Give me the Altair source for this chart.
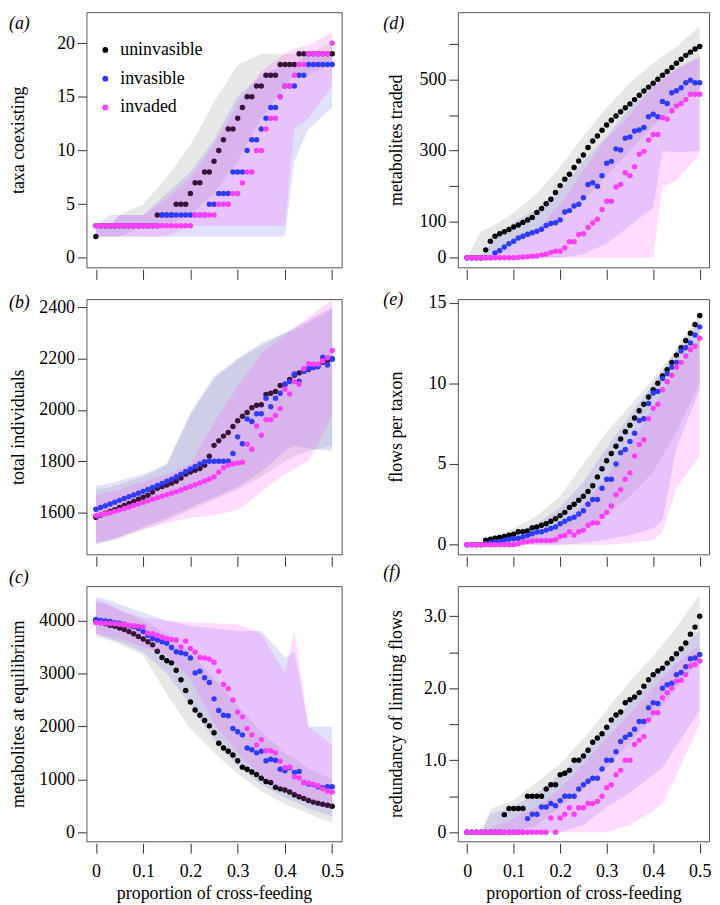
import altair as alt
import pandas as pd

# ---------------- data ----------------
X = [0.0, 0.01, 0.02, 0.03, 0.04, 0.05, 0.06, 0.07, 0.08, 0.09,
     0.1, 0.11, 0.12, 0.13, 0.14, 0.15, 0.16, 0.17, 0.18, 0.19,
     0.2, 0.21, 0.22, 0.23, 0.24, 0.25, 0.26, 0.27, 0.28, 0.29,
     0.3, 0.31, 0.32, 0.33, 0.34, 0.35, 0.36, 0.37, 0.38, 0.39,
     0.4, 0.41, 0.42, 0.43, 0.44, 0.45, 0.46, 0.47, 0.48, 0.49, 0.5]
XB = [0.0, 0.03, 0.05, 0.1, 0.15, 0.2, 0.25, 0.3, 0.35, 0.4, 0.42, 0.45, 0.5]
SERIES = ["uninvasible", "invasible", "invaded"]
X_TICKS = [0, 0.1, 0.2, 0.3, 0.4, 0.5]

# (a) taxa coexisting
A_UNINV = [2, 3, 3, 3, 3, 3, 3, 3, 3, 3, 3, 3, 3, 4, 4, 4, 4, 5, 5, 5,
           6, 7, 7, 8, 8, 9, 10, 11, 12, 12, 13, 14, 15, 15, 16, 16, 17, 17, 17, 18,
           18, 18, 18, 19, 19, 19, 19, 19, 19, 19, 19]
A_INV = [3, 3, 3, 3, 3, 3, 3, 3, 3, 3, 3, 3, 3, 3, 4, 4, 4, 4, 4, 4,
         4, 4, 4, 4, 5, 5, 6, 6, 6, 8, 8, 8, 10, 11, 11, 12, 13, 14, 14, 15,
         16, 16, 16, 17, 17, 18, 18, 18, 18, 18, 18]
A_INVADED = [3, 3, 3, 3, 3, 3, 3, 3, 3, 3, 3, 3, 3, 3, 3, 3, 3, 3, 3, 3,
             3, 4, 4, 4, 4, 4, 5, 5, 5, 6, 6, 7, 8, 8, 10, 10, 12, 13, 13, 15,
             16, 16, 17, 18, 18, 19, 19, 19, 19, 19, 20]
A_GRAY_LO = [2, 2, 2, 3, 3, 4, 6, 9, 13, 16, 17, 17, 18]
A_GRAY_HI = [3, 3, 4, 5, 7.5, 10.5, 14.5, 18, 19, 19, 19, 19, 20]
A_BLUE_LO = [2, 2, 2, 2, 2, 2, 2, 2, 2, 2, 9, 12, 14]
A_BLUE_HI = [3, 4, 4, 4, 6, 8, 11, 15, 17, 18, 18, 19, 19]
A_PINK_LO = [2, 2, 2, 2, 2, 3, 3, 3, 3, 3, 12, 13, 16]
A_PINK_HI = [3, 3, 4, 4, 5.5, 7.5, 10.5, 14.3, 17.4, 19, 19.5, 19.8, 21]

# (b) total individuals
B_UNINV = [1582, 1590, 1598, 1605, 1612, 1620, 1628, 1636, 1644, 1652,
           1660, 1668, 1680, 1695, 1702, 1708, 1715, 1722, 1735, 1750,
           1758, 1765, 1772, 1785, 1820, 1862, 1880, 1898, 1912, 1935,
           1958, 1975, 1990, 2008, 2018, 2020, 2060, 2065, 2072, 2095,
           2100, 2118, 2135, 2144, 2150, 2157, 2165, 2173, 2185, 2192, 2199]
B_INV = [1613, 1620, 1627, 1634, 1641, 1648, 1655, 1662, 1669, 1676,
         1683, 1690, 1698, 1706, 1714, 1722, 1730, 1740, 1750, 1760,
         1770, 1780, 1790, 1798, 1800, 1800, 1800, 1800, 1800, 1830,
         1895, 1868, 1965, 1955, 1985, 1985, 2045, 2012, 2045, 2065,
         2100, 2110, 2140, 2112, 2150, 2160, 2165, 2168, 2205, 2175, 2197]
B_INVADED = [1588, 1592, 1596, 1600, 1605, 1610, 1616, 1622, 1628, 1634,
             1640, 1646, 1652, 1658, 1664, 1670, 1676, 1682, 1688, 1695,
             1702, 1709, 1716, 1723, 1730, 1740, 1757, 1775, 1785, 1790,
             1793, 1796, 1866, 1847, 1937, 1901, 1962, 1962, 1978, 2005,
             2080, 2062, 2110, 2100, 2160, 2180, 2178, 2178, 2190, 2203, 2231]
B_GRAY_LO = [1475, 1490, 1500, 1535, 1570, 1610, 1650, 1690, 1740, 1800, 1820, 1840, 1860]
B_GRAY_HI = [1690, 1700, 1710, 1740, 1785, 1980, 2120, 2195, 2250, 2300, 2310, 2340, 2390]
B_BLUE_LO = [1480, 1495, 1505, 1545, 1580, 1620, 1660, 1700, 1760, 1840, 1860, 1850, 1840]
B_BLUE_HI = [1705, 1715, 1725, 1750, 1790, 1990, 2130, 2200, 2260, 2300, 2320, 2350, 2400]
B_PINK_LO = [1485, 1495, 1505, 1535, 1560, 1580, 1590, 1610, 1680, 1750, 1770, 1800, 1980]
B_PINK_HI = [1670, 1680, 1690, 1720, 1750, 1790, 1950, 2090, 2220, 2290, 2320, 2360, 2430]

# (c) metabolites at equilibrium
C_UNINV = [4000, 3960, 3940, 3910, 3890, 3860, 3830, 3790, 3750, 3700,
           3650, 3600, 3540, 3420, 3300, 3240, 3200, 3060, 2880, 2680,
           2460, 2310, 2210, 2110, 2010, 1880, 1680, 1590, 1530, 1460,
           1350, 1230, 1190, 1140, 1090, 1020, 960, 940, 850, 820,
           800, 760, 710, 670, 640, 600, 570, 550, 530, 510, 490]
C_INV = [4020, 4000, 3990, 3980, 3960, 3950, 3930, 3900, 3880, 3850,
         3790, 3720, 3660, 3630, 3600, 3570, 3490, 3410, 3390, 3370,
         3290, 3010, 3040, 2920, 2830, 2520, 2300, 2210, 2200, 1960,
         1900, 1840, 1590, 1560, 1500, 1530, 1350, 1380, 1360, 1190,
         1160, 1220, 1130, 1150, 940, 910, 900, 860, 840, 860, 860]
C_INVADED = [3960, 3955, 3950, 3945, 3940, 3930, 3920, 3910, 3900, 3890,
             3880, 3760, 3750, 3720, 3690, 3660, 3640, 3630, 3500, 3610,
             3470, 3400, 3300, 3290, 3270, 3210, 3040, 2790, 2710, 2500,
             2270, 2180, 1960, 1840, 1650, 1750, 1540, 1540, 1500, 1340,
             1220, 1235, 1050, 1025, 940, 930, 910, 880, 820, 780, 760]
C_GRAY_LO = [3700, 3620, 3550, 3350, 2600, 1950, 1500, 1100, 780, 530, 460, 350, 180]
C_GRAY_HI = [4350, 4280, 4200, 4000, 3750, 3400, 2900, 2400, 1900, 1500, 1400, 1200, 1000]
C_BLUE_LO = [3750, 3650, 3600, 3400, 3000, 2400, 1750, 1250, 900, 650, 580, 450, 300]
C_BLUE_HI = [4450, 4380, 4300, 4150, 4000, 3900, 3850, 3800, 3800, 3300, 3400, 2000, 2000]
C_PINK_LO = [3750, 3700, 3650, 3500, 3350, 2900, 2050, 1500, 1050, 750, 680, 560, 420]
C_PINK_HI = [4400, 4300, 4200, 4050, 4000, 3960, 3950, 3930, 3750, 3000, 3800, 2000, 1650]

# (d) metabolites traded
D_UNINV = [0, 0, 0, 0, 22, 46, 60, 67, 73, 79, 86, 92, 99, 106,
           113, 127, 138, 151, 164, 183, 202, 220, 234, 253,
           271, 288, 309, 327, 341, 357, 372, 385, 397, 409,
           420, 431, 443, 455, 467, 478, 489, 500, 511, 522,
           533, 545, 556, 567, 576, 585, 592]
D_INV = [0, 0, 0, 0, 0, 0, 13, 20, 30, 39, 46, 55, 60, 66, 70, 74,
         80, 90, 96, 98, 106, 128, 132, 145, 150, 168,
         205, 210, 200, 230, 265, 270, 305, 302, 335, 338,
         355, 358, 365, 395, 402, 395, 438, 432, 462, 468,
         476, 490, 497, 490, 490]
D_INVADED = [0, 0, 0, 0, 0, 0, 0, 0, 0, 0, 0, 1, 2, 3, 4, 5, 8, 10, 15, 18,
             18, 28, 45, 45, 65, 67, 85, 97, 108, 135,
             158, 158, 198, 205, 238, 230, 255, 290, 298, 330,
             345, 345, 392, 388, 412, 425, 432, 443, 458, 458, 458]
D_GRAY_LO = [0, 0, 0, 30, 70, 110, 160, 230, 300, 370, 390, 420, 470]
D_GRAY_HI = [0, 75, 85, 125, 180, 255, 340, 420, 490, 545, 565, 590, 650]
D_BLUE_LO = [0, 0, 0, 0, 0, 0, 10, 40, 90, 140, 300, 295, 300]
D_BLUE_HI = [0, 0, 40, 100, 135, 190, 270, 340, 420, 480, 500, 530, 560]
D_PINK_LO = [0, 0, 0, 0, 0, 0, 0, 0, 0, 0, 200, 215, 290]
D_PINK_HI = [0, 0, 5, 30, 75, 150, 245, 335, 400, 480, 500, 530, 565]

# (e) flows per taxon
E_UNINV = [0, 0, 0, 0, 0.27, 0.33, 0.4, 0.45, 0.5, 0.58,
           0.65, 0.8, 0.8, 0.85, 1.05, 1.1, 1.2, 1.3, 1.45, 1.6,
           1.8, 2.0, 2.3, 2.5, 2.75, 3.0, 3.3, 3.65, 4.2, 4.7,
           5.2, 5.65, 6.1, 6.55, 7.0, 7.4, 7.85, 8.3, 8.7, 9.15,
           9.6, 10.0, 10.45, 10.85, 11.3, 11.75, 12.2, 12.65, 13.1, 13.65, 14.2]
E_INV = [0, 0, 0, 0, 0.06, 0.12, 0.16, 0.2, 0.27, 0.33,
         0.37, 0.4, 0.47, 0.57, 0.68, 0.78, 0.8, 0.9, 1.0, 1.1,
         1.3, 1.45, 1.6, 1.7, 1.9, 2.1, 2.5, 2.8, 2.8, 3.5,
         4.05, 4.05, 5.0, 5.7, 5.9, 6.4, 6.9, 7.7, 7.8, 8.75,
         9.4, 9.5, 10.3, 10.6, 11.0, 11.3, 12.0, 12.2, 12.5, 13.0, 13.5]
E_INVADED = [0, 0, 0, 0, 0, 0, 0, 0, 0, 0,
             0, 0.05, 0.15, 0.2, 0.22, 0.25, 0.25, 0.25, 0.25, 0.3,
             0.5, 0.57, 0.8, 0.6, 0.8, 0.9, 1.2, 1.35, 1.35, 1.75,
             2.0, 2.4, 3.1, 3.4, 4.05, 4.45, 5.5, 6.2, 6.5, 7.8,
             8.45, 8.7, 9.6, 10.1, 10.5, 11.0, 11.3, 11.7, 12.1, 12.3, 12.8]
E_GRAY_LO = [0, 0, 0, 0, 0.2, 0.5, 1.0, 1.8, 3.0, 4.5, 5.5, 7.0, 10.0]
E_GRAY_HI = [0, 0, 0.5, 1.0, 1.8, 3.0, 5.0, 7.0, 8.6, 10.3, 11.0, 12.2, 14.3]
E_BLUE_LO = [0, 0, 0, 0, 0, 0, 0.1, 0.3, 0.6, 1.0, 1.5, 6.0, 9.6]
E_BLUE_HI = [0, 0, 0.3, 0.7, 1.3, 2.3, 3.9, 6.0, 8.0, 10.0, 10.8, 12.0, 13.9]
E_PINK_LO = [0, 0, 0, 0, 0, 0, 0, 0, 0.1, 0.3, 0.8, 3.5, 5.5]
E_PINK_HI = [0, 0, 0.1, 0.3, 0.6, 1.2, 2.5, 4.2, 6.2, 8.5, 9.4, 11.0, 12.8]

# (f) redundancy of limiting flows
F_UNINV = [0, 0, 0, 0, 0, 0, 0, 0, 0.245, 0.33,
           0.33, 0.33, 0.33, 0.5, 0.5, 0.5, 0.5, 0.6, 0.66, 0.66,
           0.8, 0.82, 0.86, 1.0, 1.0, 1.06, 1.14, 1.25, 1.31, 1.37,
           1.46, 1.56, 1.63, 1.67, 1.8, 1.84, 1.88, 1.94, 2.03, 2.12,
           2.19, 2.24, 2.28, 2.35, 2.41, 2.48, 2.55, 2.63, 2.75, 2.85, 3.0]
F_INV = [0, 0, 0, 0, 0, 0, 0, 0, 0, 0,
         0, 0, 0, 0.19, 0.25, 0.25, 0.35, 0.35, 0.4, 0.37,
         0.44, 0.5, 0.5, 0.5, 0.6, 0.66, 0.71, 0.75, 0.75, 0.88,
         1.0, 1.0, 1.12, 1.26, 1.32, 1.36, 1.43, 1.54, 1.54, 1.73,
         1.8, 1.79, 2.0, 2.05, 2.07, 2.19, 2.22, 2.3, 2.41, 2.42, 2.47]
F_INVADED = [0, 0, 0, 0, 0, 0, 0, 0, 0, 0,
             0, 0, 0, 0, 0, 0, 0, 0, 0.2, 0.0,
             0.2, 0.25, 0.34, 0.25, 0.34, 0.34, 0.4, 0.4, 0.43, 0.5,
             0.62, 0.66, 0.8, 0.86, 1.0, 1.0, 1.22, 1.28, 1.33, 1.56,
             1.66, 1.66, 1.87, 1.94, 2.0, 2.1, 2.11, 2.19, 2.31, 2.33, 2.38]
F_GRAY_LO = [0, 0, 0, 0, 0.1, 0.35, 0.6, 0.9, 1.25, 1.6, 1.75, 2.0, 2.4]
F_GRAY_HI = [0, 0, 0.32, 0.45, 0.7, 0.95, 1.3, 1.7, 2.1, 2.45, 2.6, 2.85, 3.3]
F_BLUE_LO = [0, 0, 0, 0, 0, 0, 0.1, 0.35, 0.55, 0.8, 0.9, 1.2, 1.7]
F_BLUE_HI = [0, 0, 0.25, 0.35, 0.55, 0.8, 1.1, 1.45, 1.8, 2.15, 2.3, 2.5, 2.8]
F_PINK_LO = [0, 0, 0, 0, 0, 0, 0, 0, 0.1, 0.3, 0.4, 0.8, 1.5]
F_PINK_HI = [0, 0, 0.05, 0.2, 0.35, 0.6, 0.95, 1.3, 1.65, 2.0, 2.15, 2.35, 2.6]

# ---------------- style ----------------
FONT = "Liberation Serif"
C_BLACK = "#000000"
C_BLUE = "#2e3bff"
C_PINK = "#ff3ff8"
BAND_GRAY = ("#a6a6a6", 0.27)
BAND_BLUE = ("#7878e6", 0.22)
BAND_PINK = ("#ff5cff", 0.22)

INT_LABELS = "format(datum.value, 'd')"
W_LEFT, W_RIGHT, H = 257, 253, 257


def panel(label, dx, dy, ytitle, title_x, ydom, yticks, ylabels,
          pts, bands, width, bottom, legend=False):
    xkw = dict(values=X_TICKS, offset=2, tickSize=10, labelPadding=9, titlePadding=5)
    if bottom:
        xaxis = alt.Axis(labelExpr="datum.value == 0 ? '0' : format(datum.value, '.1f')",
                         title="proportion of cross-feeding", **xkw)
    else:
        xaxis = alt.Axis(labels=False, title=None, **xkw)
    xenc = alt.X("x:Q", scale=alt.Scale(domain=[-0.02, 0.52], nice=False, zero=False), axis=xaxis)
    yscale = alt.Scale(domain=ydom, nice=False, zero=False)
    yaxis = alt.Axis(values=yticks, labelExpr=ylabels, title=ytitle, titleX=title_x,
                     titleY=H / 2, titleAngle=270, titleAlign="center",
                     titleBaseline="middle", tickSize=9, labelPadding=3, labelOverlap=False)

    def band(lo, hi, style):
        df = pd.DataFrame({"x": XB, "lo": lo, "hi": hi})
        return alt.Chart(df).mark_area(color=style[0], opacity=style[1],
                                       interpolate="linear", clip=True).encode(
            x=xenc, y=alt.Y("lo:Q", scale=yscale, axis=yaxis), y2="hi:Q")

    def dots(vals, name, color):
        df = pd.DataFrame({"x": X, "y": vals, "series": [name] * len(X)})
        if legend:
            cenc = alt.Color("series:N",
                             scale=alt.Scale(domain=SERIES, range=[C_BLACK, C_BLUE, C_PINK]),
                             legend=alt.Legend(orient="none", legendX=10, legendY=29, title=None,
                                               symbolType="circle", symbolSize=34,
                                               symbolStrokeWidth=0, labelFont=FONT,
                                               labelFontSize=18, labelColor="black",
                                               rowPadding=11, labelOffset=6, padding=0))
        else:
            cenc = alt.value(color)
        return alt.Chart(df).mark_circle(size=30, opacity=1, clip=True).encode(
            x=xenc, y=alt.Y("y:Q", scale=yscale, axis=yaxis), color=cenc)

    layers = [
        band(bands[0], bands[1], BAND_GRAY),
        band(bands[2], bands[3], BAND_BLUE),
        dots(pts[0], SERIES[0], C_BLACK),
        band(bands[4], bands[5], BAND_PINK),
        dots(pts[1], SERIES[1], C_BLUE),
        dots(pts[2], SERIES[2], C_PINK),
    ]
    return alt.layer(*layers).properties(
        width=width, height=H,
        title=alt.TitleParams(text=label, anchor="start", frame="group", orient="top",
                              baseline="middle", offset=0, dx=dx, dy=dy, font=FONT,
                              fontSize=18, fontStyle="italic", fontWeight="normal",
                              color="black"))


pa = panel("(a)", -78, 30, "taxa coexisting", -68, [-0.88, 22.88], [0, 5, 10, 15, 20], INT_LABELS,
           [A_UNINV, A_INV, A_INVADED],
           [A_GRAY_LO, A_GRAY_HI, A_BLUE_LO, A_BLUE_HI, A_PINK_LO, A_PINK_HI],
           W_LEFT, False, legend=True)
pb = panel("(b)", -78, 23, "total individuals", -68, [1438, 2431], [1600, 1800, 2000, 2200, 2400],
           INT_LABELS, [B_UNINV, B_INV, B_INVADED],
           [B_GRAY_LO, B_GRAY_HI, B_BLUE_LO, B_BLUE_HI, B_PINK_LO, B_PINK_HI],
           W_LEFT, False)
pc = panel("(c)", -78, 10, "metabolites at equilibrium", -68, [-170, 4650],
           [0, 1000, 2000, 3000, 4000], INT_LABELS, [C_UNINV, C_INV, C_INVADED],
           [C_GRAY_LO, C_GRAY_HI, C_BLUE_LO, C_BLUE_HI, C_PINK_LO, C_PINK_HI],
           W_LEFT, True)
pd_ = panel("(d)", -75, 30, "metabolites traded", -62, [-27, 688],
            [0, 100, 200, 300, 400, 500, 600],
            "indexof([0, 100, 300, 500], datum.value) >= 0 ? format(datum.value, 'd') : ''",
            [D_UNINV, D_INV, D_INVADED],
            [D_GRAY_LO, D_GRAY_HI, D_BLUE_LO, D_BLUE_HI, D_PINK_LO, D_PINK_HI],
            W_RIGHT, False)
pe = panel("(e)", -75, 24, "flows per taxon", -62, [-0.6, 15.22], [0, 5, 10, 15], INT_LABELS,
           [E_UNINV, E_INV, E_INVADED],
           [E_GRAY_LO, E_GRAY_HI, E_BLUE_LO, E_BLUE_HI, E_PINK_LO, E_PINK_HI],
           W_RIGHT, False)
pf = panel("(f)", -75, 5, "redundancy of limiting flows", -62, [-0.125, 3.42],
           [0, 0.5, 1, 1.5, 2, 2.5, 3],
           "datum.value == 0 ? '0' : (datum.value % 1 == 0 ? format(datum.value, '.1f') : '')",
           [F_UNINV, F_INV, F_INVADED],
           [F_GRAY_LO, F_GRAY_HI, F_BLUE_LO, F_BLUE_HI, F_PINK_LO, F_PINK_HI],
           W_RIGHT, True)

chart = alt.concat(
    pa, pd_, pb, pe, pc, pf, columns=2, bounds="flush",
    spacing=alt.RowColnumber(row=32, column=117)
).resolve_legend(color="independent").properties(
    padding=0, background="white"
).configure_view(
    stroke="#555555", strokeWidth=1
).configure_axis(
    domain=False, grid=False, tickColor="#333333", tickWidth=1,
    labelFont=FONT, labelFontSize=18, labelColor="black",
    titleFont=FONT, titleFontSize=18, titleFontWeight="normal", titleColor="black"
)

chart.save("out.html", embed_options={"renderer": "svg", "actions": False})
